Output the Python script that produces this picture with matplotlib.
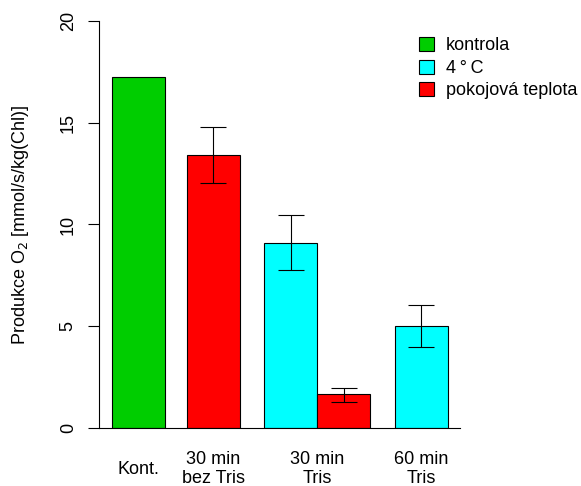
import matplotlib.pyplot as plt
from matplotlib.patches import Patch

plt.rcParams['font.family'] = ['Liberation Sans', 'DejaVu Sans']

# bar data (left to right)
positions = [0, 1.42, 2.88, 3.88, 5.34]
values = [17.25, 13.4, 9.1, 1.65, 5.02]
err_hi = [None, 14.78, 10.45, 1.98, 6.02]
err_lo = [None, 12.05, 7.75, 1.3, 4.0]
colors = ['#00CD00', '#FF0000', '#00FFFF', '#FF0000', '#00FFFF']

group_labels = ['Kont.', '30 min\nbez Tris', '30 min\nTris', '60 min\nTris']
label_pos = [0, 1.42, 3.38, 5.34]

legend_labels = ['kontrola', '4\u2009°\u2009C', 'pokojová teplota']
legend_colors = ['#00CD00', '#00FFFF', '#FF0000']

fig = plt.figure(figsize=(5.81, 4.86), dpi=100)
ax = fig.add_axes([99 / 581, 58 / 486, 361 / 581, 407 / 486])

ax.bar(positions, values, width=1.0, color=colors, edgecolor='black', linewidth=0.8)

for x, v, hi, lo in zip(positions, values, err_hi, err_lo):
    if hi is None:
        continue
    ax.errorbar([x], [v], yerr=[[v - lo], [hi - v]], fmt='none', ecolor='black',
                elinewidth=0.8, capsize=9.5, capthick=0.8)

ax.set_xlim(-0.736, 6.075)
ax.set_ylim(0, 20)
ax.set_yticks([0, 5, 10, 15, 20])
ax.tick_params(axis='y', length=8, width=0.8, labelsize=13, pad=8, labelrotation=90)
for t in ax.get_yticklabels():
    t.set_verticalalignment('center')
ax.set_xticks([])
ax.spines['top'].set_visible(False)
ax.spines['right'].set_visible(False)
ax.spines['left'].set_linewidth(0.8)
ax.spines['bottom'].set_linewidth(0.8)
ax.set_ylabel('Produkce O$_2$ [mmol/s/kg(Chl)]', fontsize=13, labelpad=21)

for x, lab in zip(label_pos, group_labels):
    ax.text(x, -41 / 407, lab, transform=ax.get_xaxis_transform(), ha='center', va='center',
            fontsize=13, linespacing=1.1)

handles = [Patch(facecolor=c, edgecolor='black', linewidth=0.8) for c in legend_colors]
fig.legend(handles, legend_labels, loc='upper left', bbox_to_anchor=(419 / 581, 1 - 37 / 486),
           frameon=False, fontsize=13, handlelength=0.85, handleheight=0.85,
           handletextpad=0.65, labelspacing=0.28, borderaxespad=0, borderpad=0)

fig.savefig('out.png', dpi=100)
